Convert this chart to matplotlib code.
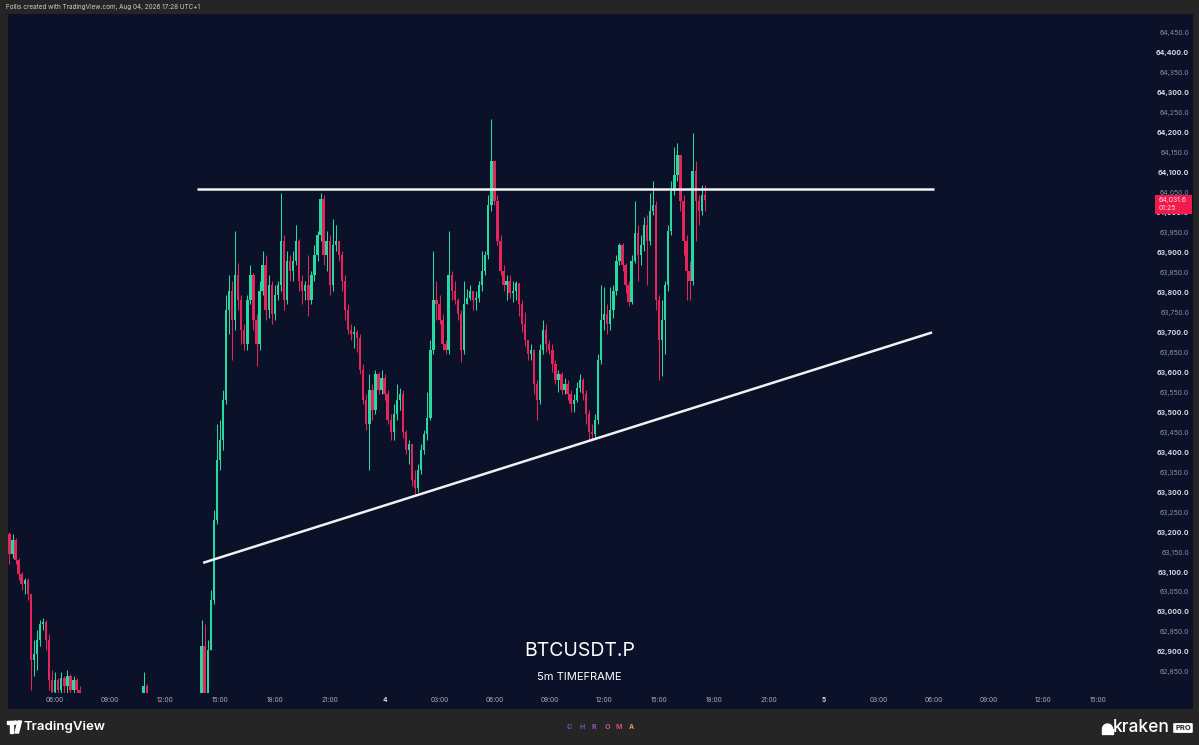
import numpy as np
import pandas as pd
import matplotlib
matplotlib.use('Agg')
import matplotlib.pyplot as plt
from matplotlib.patches import Rectangle, Circle, Polygon, Wedge
from matplotlib.transforms import Affine2D

plt.rcParams['font.family'] = ['Inter', 'DejaVu Sans']

# ---------------------------------------------------------------------------
# Data: BTCUSDT.P, 10-minute candles (Aug 3 03:30 -> Aug 4 17:30)
# open of each candle = close of the previous one
# ---------------------------------------------------------------------------
start_time = '2026-08-03 03:30'
first_open = 63195

closes = [
    63145, 63180, 63130, 63095, 63070, 63080, 63045, 62880, 62895, 62930,
    62970, 62975, 62930, 62830, 62800, 62830, 62805, 62835, 62815, 62840,
    62805, 62830, 62805, 62780, 62740, 62720, 62700, 62710, 62690, 62680,
    62700, 62690, 62705, 62715, 62700, 62710, 62725, 62715, 62730, 62720,
    62735, 62740, 62745, 62765, 62815, 62765, 62750, 62765, 62740, 62730,
    62720, 62735, 62725, 62715, 62700, 62710, 62695, 62705, 62720, 62710,
    62725, 62735, 62745, 62915, 62765, 62905, 63030, 63230, 63380, 63430,
    63530, 63755, 63805, 63730, 63845, 63780, 63705, 63670, 63780, 63845,
    63730, 63670, 63805, 63870, 63755, 63820, 63745, 63795, 63820, 63930,
    63780, 63880, 63855, 63880, 63930, 63830, 63805, 63820, 63780, 63845,
    63895, 63945, 64035, 63895, 63930, 63820, 63920, 63930, 63895, 63830,
    63755, 63705, 63695, 63700, 63685, 63605, 63530, 63470, 63555, 63505,
    63595, 63555, 63585, 63545, 63480, 63450, 63495, 63530, 63545, 63450,
    63405, 63420, 63330, 63310, 63355, 63405, 63445, 63485, 63655, 63780,
    63770, 63730, 63670, 63655, 63845, 63805, 63780, 63745, 63655, 63770,
    63785, 63805, 63780, 63785, 63820, 63855, 63895, 64020, 64130, 64030,
    63930, 63855, 63820, 63830, 63800, 63805, 63825, 63770, 63720, 63680,
    63645, 63655, 63570, 63530, 63655, 63705, 63670, 63655, 63620, 63580,
    63595, 63555, 63570, 63545, 63520, 63530, 63560, 63580, 63545, 63495,
    63450, 63445, 63480, 63630, 63730, 63745, 63720, 63755, 63805, 63880,
    63920, 63870, 63820, 63775, 63880, 63950, 63895, 63920, 63970, 63930,
    64005, 64020, 63780, 63680, 63730, 63820, 63955, 64055, 64095, 64145,
    64030, 63930, 63855, 63830, 64105, 64030, 64005, 64045, 64031.6,
]

highs = [
    63200, 63195, 63185, 63135, 63100, 63085, 63085, 63045, 62930, 62955,
    62980, 62985, 62980, 62945, 62855, 62850, 62835, 62850, 62840, 62855,
    62845, 62840, 62835, 62815, 62790, 62745, 62730, 62725, 62715, 62700,
    62715, 62710, 62720, 62730, 62725, 62720, 62740, 62735, 62745, 62740,
    62750, 62755, 62755, 62790, 62850, 62820, 62780, 62785, 62770, 62750,
    62740, 62750, 62745, 62735, 62725, 62730, 62720, 62720, 62735, 62730,
    62745, 62750, 62755, 62980, 62970, 62930, 63055, 63255, 63470, 63480,
    63555, 63795, 63845, 63830, 63955, 63875, 63795, 63720, 63795, 63870,
    63850, 63745, 63830, 63905, 63895, 63845, 63830, 63820, 63830, 64050,
    63945, 63905, 63895, 63905, 63970, 63935, 63845, 63830, 63895, 63855,
    63920, 63955, 64050, 64045, 63955, 63945, 63985, 63970, 63930, 63905,
    63845, 63770, 63720, 63715, 63705, 63695, 63620, 63545, 63595, 63570,
    63605, 63600, 63605, 63595, 63555, 63495, 63520, 63570, 63560, 63555,
    63455, 63430, 63420, 63355, 63370, 63420, 63455, 63550, 63680, 63905,
    63830, 63795, 63745, 63680, 63955, 63855, 63830, 63785, 63755, 63830,
    63810, 63820, 63805, 63805, 63830, 63905, 63905, 64045, 64235, 64130,
    64045, 63945, 63870, 63845, 63845, 63830, 63830, 63825, 63780, 63750,
    63680, 63670, 63655, 63580, 63670, 63730, 63720, 63680, 63670, 63630,
    63605, 63600, 63585, 63580, 63555, 63545, 63575, 63595, 63585, 63555,
    63505, 63470, 63495, 63645, 63820, 63815, 63770, 63815, 63820, 63895,
    63925, 63925, 63875, 63830, 63895, 64030, 63970, 63945, 63990, 63995,
    64050, 64080, 64030, 63795, 63780, 63830, 63970, 64080, 64165, 64175,
    64145, 64045, 63945, 63880, 64200, 64130, 64045, 64070, 64070,
]

lows = [
    63120, 63135, 63120, 63080, 63055, 63045, 63030, 62805, 62840, 62855,
    62915, 62955, 62905, 62805, 62780, 62780, 62780, 62780, 62790, 62790,
    62780, 62780, 62780, 62755, 62730, 62700, 62680, 62685, 62670, 62660,
    62675, 62670, 62685, 62695, 62690, 62690, 62705, 62700, 62710, 62705,
    62715, 62725, 62730, 62730, 62755, 62740, 62730, 62740, 62720, 62710,
    62700, 62715, 62710, 62695, 62680, 62690, 62675, 62685, 62700, 62690,
    62705, 62715, 62725, 62740, 62740, 62750, 62905, 63020, 63220, 63355,
    63405, 63520, 63695, 63630, 63705, 63755, 63670, 63655, 63655, 63770,
    63705, 63615, 63655, 63795, 63730, 63735, 63720, 63730, 63780, 63805,
    63755, 63770, 63830, 63830, 63870, 63805, 63770, 63780, 63740, 63770,
    63830, 63880, 63930, 63870, 63855, 63795, 63805, 63905, 63880, 63805,
    63730, 63695, 63680, 63660, 63650, 63595, 63520, 63455, 63355, 63480,
    63495, 63545, 63545, 63530, 63470, 63430, 63430, 63480, 63505, 63435,
    63395, 63370, 63315, 63290, 63300, 63345, 63395, 63430, 63480, 63645,
    63730, 63720, 63655, 63645, 63645, 63780, 63770, 63730, 63625, 63645,
    63770, 63780, 63755, 63755, 63775, 63805, 63845, 63885, 64005, 64020,
    63920, 63845, 63805, 63780, 63785, 63775, 63780, 63740, 63700, 63665,
    63630, 63630, 63545, 63480, 63520, 63645, 63650, 63645, 63600, 63570,
    63550, 63545, 63545, 63530, 63500, 63500, 63525, 63550, 63530, 63470,
    63430, 63430, 63435, 63470, 63620, 63705, 63695, 63705, 63735, 63795,
    63870, 63855, 63800, 63765, 63770, 63875, 63830, 63870, 63905, 63820,
    63920, 63995, 63755, 63580, 63590, 63645, 63805, 63945, 64045, 64080,
    64005, 63895, 63780, 63780, 63820, 63930, 63970, 63995, 64005,
]

# drawn trend lines (time, price)
resistance_times = ['2026-08-03 13:45', '2026-08-05 06:00']
resistance_prices = [64060, 64060]
support_times = ['2026-08-03 14:05', '2026-08-05 05:55']
support_prices = [63123, 63700]

last_price = 64031.6
countdown = '01:25'

# ---------------------------------------------------------------------------
W, H = 1199, 745
BG = '#0b1128'
FRAME = '#252525'
UP = '#25d9a0'
DOWN = '#e6245c'

origin = pd.Timestamp('2026-08-04 00:00')


def hours(ts):
    return ((pd.DatetimeIndex(ts) - origin) / pd.Timedelta(hours=1)).to_numpy()


times = pd.date_range(start_time, periods=len(closes), freq='10min')
x = hours(times)
c = np.array(closes, dtype=float)
h = np.array(highs, dtype=float)
l = np.array(lows, dtype=float)
o = np.r_[first_open, c[:-1]]
colors = np.where(c >= o, UP, DOWN)

fig = plt.figure(figsize=(W / 100, H / 100), dpi=100, facecolor=FRAME)
# pixel coordinates (origin top-left) -> figure
PX = Affine2D().scale(1 / W, -1 / H).translate(0, 1) + fig.transFigure

# dark chart panel (behind the axes)
fig.add_artist(Rectangle((8, 14), 1185, 695, transform=PX, facecolor=BG,
                         edgecolor='none', zorder=-10))

ax = fig.add_axes([8 / W, (H - 693) / H, 1120 / W, (693 - 15) / H])
ax.set_facecolor('none')
for s in ax.spines.values():
    s.set_visible(False)

# watermark (behind candles)
fig.text(579.5 / W, (H - 651) / H, 'BTCUSDT.P', ha='center', va='center',
         fontsize=14, color='white', zorder=-5)
fig.text(579.5 / W, (H - 677) / H, '5m TIMEFRAME', ha='center', va='center',
         fontsize=8, color='white', zorder=-5)

# candles
ax.vlines(x, l, h, colors=colors, linewidth=0.75, zorder=2)
body = np.maximum(np.abs(c - o), 2.5)
ax.bar(x, body, bottom=np.minimum(o, c), width=0.13, color=colors, linewidth=0, zorder=3)

# trend lines
ax.plot(hours(resistance_times), resistance_prices, color='#f2f2f2', lw=1.8,
        solid_capstyle='butt', zorder=4)
ax.plot(hours(support_times), support_prices, color='#f2f2f2', lw=1.8,
        solid_capstyle='butt', zorder=4)

ax.set_xlim((8 - 384.6) / 18.3, (1128 - 384.6) / 18.3)
ax.set_ylim(62797, 64495)

# price axis (right)
pticks = np.arange(62850, 64451, 50)
ax.yaxis.tick_right()
ax.set_yticks(pticks, [f'{p:,.1f}' for p in pticks])
ax.tick_params(axis='y', length=0, pad=44, labelsize=5)
for p, lbl in zip(pticks, ax.get_yticklabels()):
    lbl.set_horizontalalignment('right')
    if p % 100 == 0:
        lbl.set_color('#d6d9e2')
        lbl.set_fontweight('bold')
    else:
        lbl.set_color('#8a8fa0')

# time axis
tt = pd.date_range('2026-08-03 06:00', '2026-08-05 15:00', freq='3h')
tlabels = [str(t.day) if t.hour == 0 else t.strftime('%H:%M') for t in tt]
ax.set_xticks(hours(tt), tlabels)
ax.tick_params(axis='x', length=0, pad=3, labelsize=4.7, labelcolor='#a9adb8')
for t, lbl in zip(tt, ax.get_xticklabels()):
    if t.hour == 0:
        lbl.set_fontweight('bold')
        lbl.set_color('#d6d9e2')

# last price tag
ytr = ax.get_yaxis_transform()
ax.add_patch(Rectangle(((1155 - 8) / 1120, last_price - 35), 37 / 1120, 47,
                       transform=ytr, facecolor='#f01a4c', edgecolor='none',
                       clip_on=False, zorder=6))
ax.text((1159 - 8) / 1120, last_price, f'{last_price:,.1f}', transform=ytr,
        ha='left', va='center', fontsize=5, color='#ffd9e2', zorder=7, clip_on=False)
ax.annotate(countdown, xy=((1159 - 8) / 1120, last_price), xycoords=ytr,
            xytext=(0, -5.6), textcoords='offset points', ha='left', va='center',
            fontsize=5, color='#ffd9e2', zorder=7, annotation_clip=False)

# header
fig.text(6 / W, 1 - 7 / H, 'Follis created with TradingView.com, Aug 04, 2026 17:28 UTC+1',
         ha='left', va='center', fontsize=4.6, color='#cfcfcf')

# footer: TradingView logo
fig.add_artist(Rectangle((7, 721), 6, 3, transform=PX, color='white'))
fig.add_artist(Rectangle((10, 721), 3, 12, transform=PX, color='white'))
fig.add_artist(Polygon([(15, 733), (18.5, 733), (21.5, 721), (18, 721)], closed=True,
                       transform=PX, color='white'))
fig.add_artist(Circle((15.3, 722.6), 1.6, transform=PX, color='white'))
fig.text(23 / W, (H - 727) / H, 'TradingView', ha='left', va='center', fontsize=9.5,
         fontweight='semibold', color='white')

# footer: CHROMA
for letter, px, col in zip('CHROMA', [569, 582, 594, 607, 619, 631],
                           ['#4b5bd4', '#5a5ad6', '#8a5fc8', '#b35aa6', '#d9467c', '#e09a4a']):
    fig.text(px / W, (H - 727) / H, letter, ha='center', va='center', fontsize=5,
             fontweight='bold', color=col)

# footer: kraken PRO
fig.add_artist(Wedge((1107.5, 729), 5, 180, 360, transform=PX, color='white'))
for lx in [1103.2, 1106.1, 1108.9, 1111.8]:
    fig.add_artist(Rectangle((lx - 0.8, 729), 1.6, 5, transform=PX, color='white'))
fig.text(1113 / W, (H - 727.5) / H, 'kraken', ha='left', va='center', fontsize=12.5,
         fontweight='medium', color='white')
fig.text(1183 / W, (H - 728) / H, 'PRO', ha='center', va='center', fontsize=5.5,
         fontweight='bold', color=FRAME,
         bbox=dict(boxstyle='round,pad=0.25,rounding_size=0.15', facecolor='white',
                   edgecolor='none'))

fig.savefig('out.png', dpi=100, facecolor=FRAME)
